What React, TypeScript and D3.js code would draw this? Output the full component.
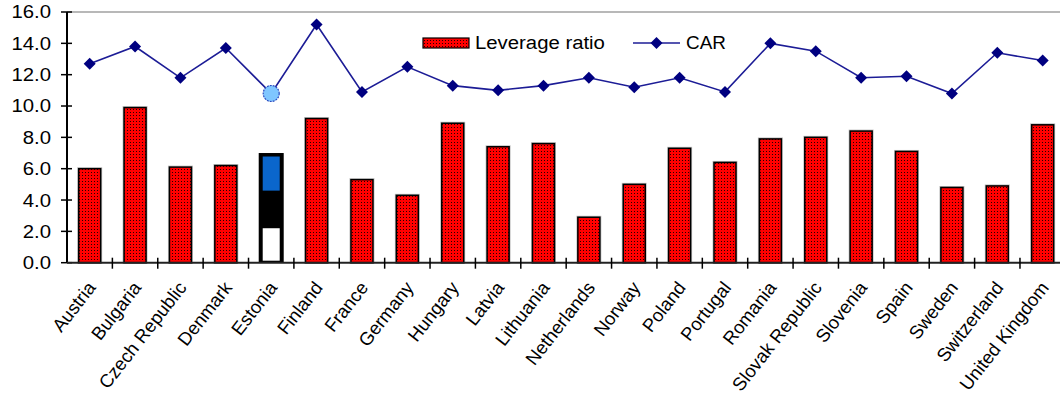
import React from "react";
import * as d3 from "d3";

// Leverage ratio (bars) and capital adequacy ratio (line) by country
const countries = [
  "Austria", "Bulgaria", "Czech Republic", "Denmark", "Estonia", "Finland",
  "France", "Germany", "Hungary", "Latvia", "Lithuania", "Netherlands",
  "Norway", "Poland", "Portugal", "Romania", "Slovak Republic", "Slovenia",
  "Spain", "Sweden", "Switzerland", "United Kingdom",
];
const leverage = [
  6.0, 9.9, 6.1, 6.2, 7.0, 9.2, 5.3, 4.3, 8.9, 7.4, 7.6, 2.9,
  5.0, 7.3, 6.4, 7.9, 8.0, 8.4, 7.1, 4.8, 4.9, 8.8,
];
const car = [
  12.7, 13.8, 11.8, 13.7, 10.8, 15.2, 10.9, 12.5, 11.3, 11.0, 11.3, 11.8,
  11.2, 11.8, 10.9, 14.0, 13.5, 11.8, 11.9, 10.8, 13.4, 12.9,
];
// Estonia's bar is split into three bands (upper bounds of each band)
const estoniaBands = [2.2, 4.6, 7.0];
const yTicks = [0, 2, 4, 6, 8, 10, 12, 14, 16];
const seriesNames = ["Leverage ratio", "CAR"];

const W = 1060;
const H = 400;
const left = 67;
const top = 12;
const bottom = 262.7;
const band = 45.38;
const barW = 22;
const font = "'Liberation Sans', Arial, sans-serif";
const stretch = 1.13;

export default function App() {
  const x = d3
    .scaleBand<string>()
    .domain(countries)
    .range([left, left + band * countries.length])
    .paddingInner(0)
    .paddingOuter(0);
  const y = d3.scaleLinear().domain([0, 16]).range([bottom, top]);
  const cx = (c: string) => (x(c) ?? 0) + x.bandwidth() / 2;

  const line = d3
    .line<number>()
    .x((_, i) => cx(countries[i]))
    .y((d) => y(d));

  const diamond = (px: number, py: number, r = 6) =>
    `M${px},${py - r}L${px + r},${py}L${px},${py + r}L${px - r},${py}Z`;

  const estIdx = countries.indexOf("Estonia");
  const rightEdge = left + band * countries.length;

  return (
    <svg
      width={W}
      height={H}
      style={{ position: "absolute", left: 0, top: 0, background: "#fff" }}
    >
      <defs>
        <pattern id="dots" width="3" height="3" patternUnits="userSpaceOnUse">
          <rect width="3" height="3" fill="#ff0000" />
          <rect x="1" y="1" width="1" height="1" fill="#000" opacity="0.85" />
        </pattern>
      </defs>

      {/* top frame line */}
      <line x1={left} x2={rightEdge} y1={top} y2={top} stroke="#a0a0a0" strokeWidth={1.5} />

      {/* bars */}
      {countries.map((c, i) => {
        if (i === estIdx) return null;
        const bx = cx(c) - barW / 2;
        const by = y(leverage[i]);
        return (
          <g key={c}>
            <rect x={bx - 0.5} y={by - 0.5} width={barW + 1} height={bottom - by + 0.5}
              fill="none" stroke="#c0c0c0" strokeWidth={2} />
            <rect x={bx} y={by} width={barW} height={bottom - by}
              fill="url(#dots)" stroke="#000" strokeWidth={1.5} />
          </g>
        );
      })}

      {/* Estonia stacked bar */}
      {(() => {
        const c = countries[estIdx];
        const w = 25;
        const bx = cx(c) - w / 2;
        const yTop = y(estoniaBands[2]);
        return (
          <g>
            <rect x={bx} y={yTop} width={w} height={bottom - yTop} fill="#000" />
            <rect x={bx + 4} y={yTop + 3.5} width={w - 8} height={y(estoniaBands[1]) - yTop - 3.5}
              fill="#0a66cc" />
            <rect x={bx + 4} y={y(estoniaBands[0])} width={w - 8} height={bottom - 2 - y(estoniaBands[0])}
              fill="#fff" />
          </g>
        );
      })()}

      {/* CAR line */}
      <path d={line(car) ?? ""} fill="none" stroke="#1c1c96" strokeWidth={1.6} />
      {car.map((v, i) =>
        i === estIdx ? (
          <circle key={i} cx={cx(countries[i])} cy={y(v)} r={8}
            fill="#7fc6ff" stroke="#2a4bc0" strokeWidth={1.2} strokeDasharray="2 1" />
        ) : (
          <path key={i} d={diamond(cx(countries[i]), y(v))} fill="#000080" />
        )
      )}

      {/* y axis */}
      <line x1={left} x2={left} y1={top} y2={bottom} stroke="#000" strokeWidth={2} />
      {yTicks.map((t) => (
        <g key={t}>
          <line x1={61} x2={72} y1={y(t)} y2={y(t)} stroke="#000" strokeWidth={1.5} />
          <g transform={`translate(51,${y(t)}) scale(${stretch},1)`}>
            <text dy="0.36em" textAnchor="end" fontFamily={font} fontSize={18} fill="#000">
              {t.toFixed(1)}
            </text>
          </g>
        </g>
      ))}

      {/* x axis */}
      <line x1={left} x2={rightEdge} y1={bottom} y2={bottom} stroke="#222" strokeWidth={2} />
      {countries.map((c, i) => (
        <line key={"t" + i} x1={(x(c) ?? 0) + band} x2={(x(c) ?? 0) + band}
          y1={bottom - 5} y2={bottom + 6} stroke="#000" strokeWidth={1.5} />
      ))}
      {countries.map((c) => (
        <text key={"l" + c} transform={`translate(${cx(c) + 7},${288}) rotate(-52)`}
          textAnchor="end" fontFamily={font} fontSize={18.5} fill="#000">
          {c}
        </text>
      ))}

      {/* legend */}
      <g>
        <rect x={423} y={38} width={46} height={10} fill="url(#dots)" stroke="#000" strokeWidth={1.2} />
        <g transform={`translate(475,49) scale(${stretch},1)`}>
          <text fontFamily={font} fontSize={18} fill="#000">{seriesNames[0]}</text>
        </g>
        <line x1={633} x2={680} y1={43} y2={43} stroke="#1c1c96" strokeWidth={1.6} />
        <path d={diamond(656.5, 43)} fill="#000080" />
        <g transform={`translate(686,49) scale(1.05,1)`}>
          <text fontFamily={font} fontSize={18} fill="#000">{seriesNames[1]}</text>
        </g>
      </g>
    </svg>
  );
}
